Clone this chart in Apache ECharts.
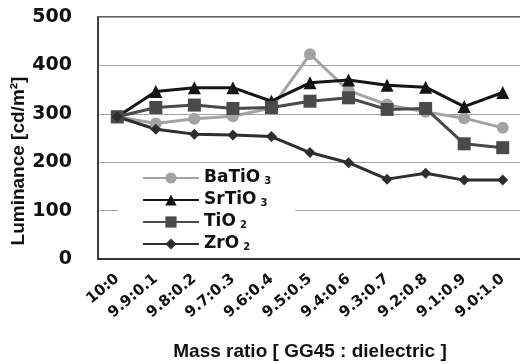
<!DOCTYPE html>
<html>
<head>
<meta charset="utf-8">
<script src="https://cdn.jsdelivr.net/npm/echarts@6/dist/echarts.min.js"></script>
<style>
  html, body { margin: 0; padding: 0; background: #fff; }
  #chart { width: 520px; height: 364px; }
</style>
</head>
<body>
<div id="chart"></div>
<script>
// 质量比 GG45 : dielectric
const ratios = ['10:0', '9.9:0.1', '9.8:0.2', '9.7:0.3', '9.6:0.4', '9.5:0.5',
  '9.4:0.6', '9.3:0.7', '9.2:0.8', '9.1:0.9', '9.0:1.0'];
const yTicks = [0, 100, 200, 300, 400, 500];

// 亮度 cd/m2
const baTiO3 = [294, 280, 290, 295, 312, 423, 348, 319, 304, 291, 271];
const srTiO3 = [294, 346, 354, 354, 326, 364, 370, 359, 355, 315, 344];
const tiO2 = [294, 313, 318, 311, 313, 326, 333, 309, 311, 238, 230];
const zrO2 = [294, 268, 258, 256, 253, 220, 199, 165, 177, 163, 163];

const font = 'Liberation Sans, Arial, sans-serif';
const wide = 'DejaVu Sans, sans-serif';

const chart = echarts.init(document.getElementById('chart'));

const makeSeries = (name, data, color, symbol, size, width) => ({
  name,
  type: 'line',
  data,
  symbol,
  symbolSize: size,
  lineStyle: { color, width },
  itemStyle: { color },
  emphasis: { disabled: true },
});

chart.setOption({
  animation: false,
  grid: {
    left: 98, right: -2, top: 17, bottom: 105,
    outerBoundsMode: 'none',
    show: true, borderColor: '#333', borderWidth: 1.5,
  },
  legend: {
    orient: 'vertical',
    left: 118, top: 167,
    padding: [2, 24, 4, 24],
    backgroundColor: '#fff',
    itemWidth: 56, itemHeight: 14, itemGap: 4,
    data: ['BaTiO3', 'SrTiO3', 'TiO2', 'ZrO2'],
    formatter: name => name.replace(/(\d)$/, '{s|$1}'),
    textStyle: {
      fontFamily: wide, fontSize: 17, fontWeight: 'bold', color: '#111', lineHeight: 18,
      rich: { s: { fontFamily: wide, fontSize: 10, fontWeight: 'bold', lineHeight: 18, padding: [6, 0, 0, 4] } },
    },
  },
  xAxis: {
    type: 'category',
    data: ratios,
    boundaryGap: true,
    axisLine: { lineStyle: { color: '#333', width: 2 } },
    axisTick: { inside: true, length: 4, alignWithLabel: true, lineStyle: { color: '#333' } },
    axisLabel: {
      rotate: 40, margin: 18, interval: 0,
      fontFamily: wide, fontSize: 15, fontWeight: 'bold', color: '#111',
    },
    name: 'Mass ratio [ GG45 : dielectric ]',
    nameLocation: 'middle',
    nameGap: 83,
    nameTextStyle: { fontFamily: font, fontSize: 19, fontWeight: 'bold', color: '#111' },
  },
  yAxis: {
    type: 'value',
    min: yTicks[0], max: yTicks[yTicks.length - 1], interval: 100,
    axisLine: { show: true, lineStyle: { color: '#333', width: 1.5 } },
    axisTick: { show: false },
    splitLine: { lineStyle: { color: '#a0a0a0', width: 1 } },
    axisLabel: {
      margin: 26,
      fontFamily: wide, fontSize: 19, fontWeight: 'bold', color: '#111',
    },
  },
  graphic: [{
    type: 'text',
    x: 19, y: 161,
    rotation: Math.PI / 2,
    style: {
      text: 'Luminance [cd/m²]',
      fontFamily: font, fontSize: 19, fontWeight: 'bold', fill: '#111',
      align: 'center', verticalAlign: 'middle',
    },
  }],
  series: [
    makeSeries('BaTiO3', baTiO3, '#a3a3a3', 'circle', 12, 3),
    makeSeries('SrTiO3', srTiO3, '#151515', 'triangle', 13, 3),
    makeSeries('TiO2', tiO2, '#4a4a4a', 'rect', 13, 3),
    makeSeries('ZrO2', zrO2, '#2e2e2e', 'diamond', 11, 3),
  ],
});
</script>
</body>
</html>
